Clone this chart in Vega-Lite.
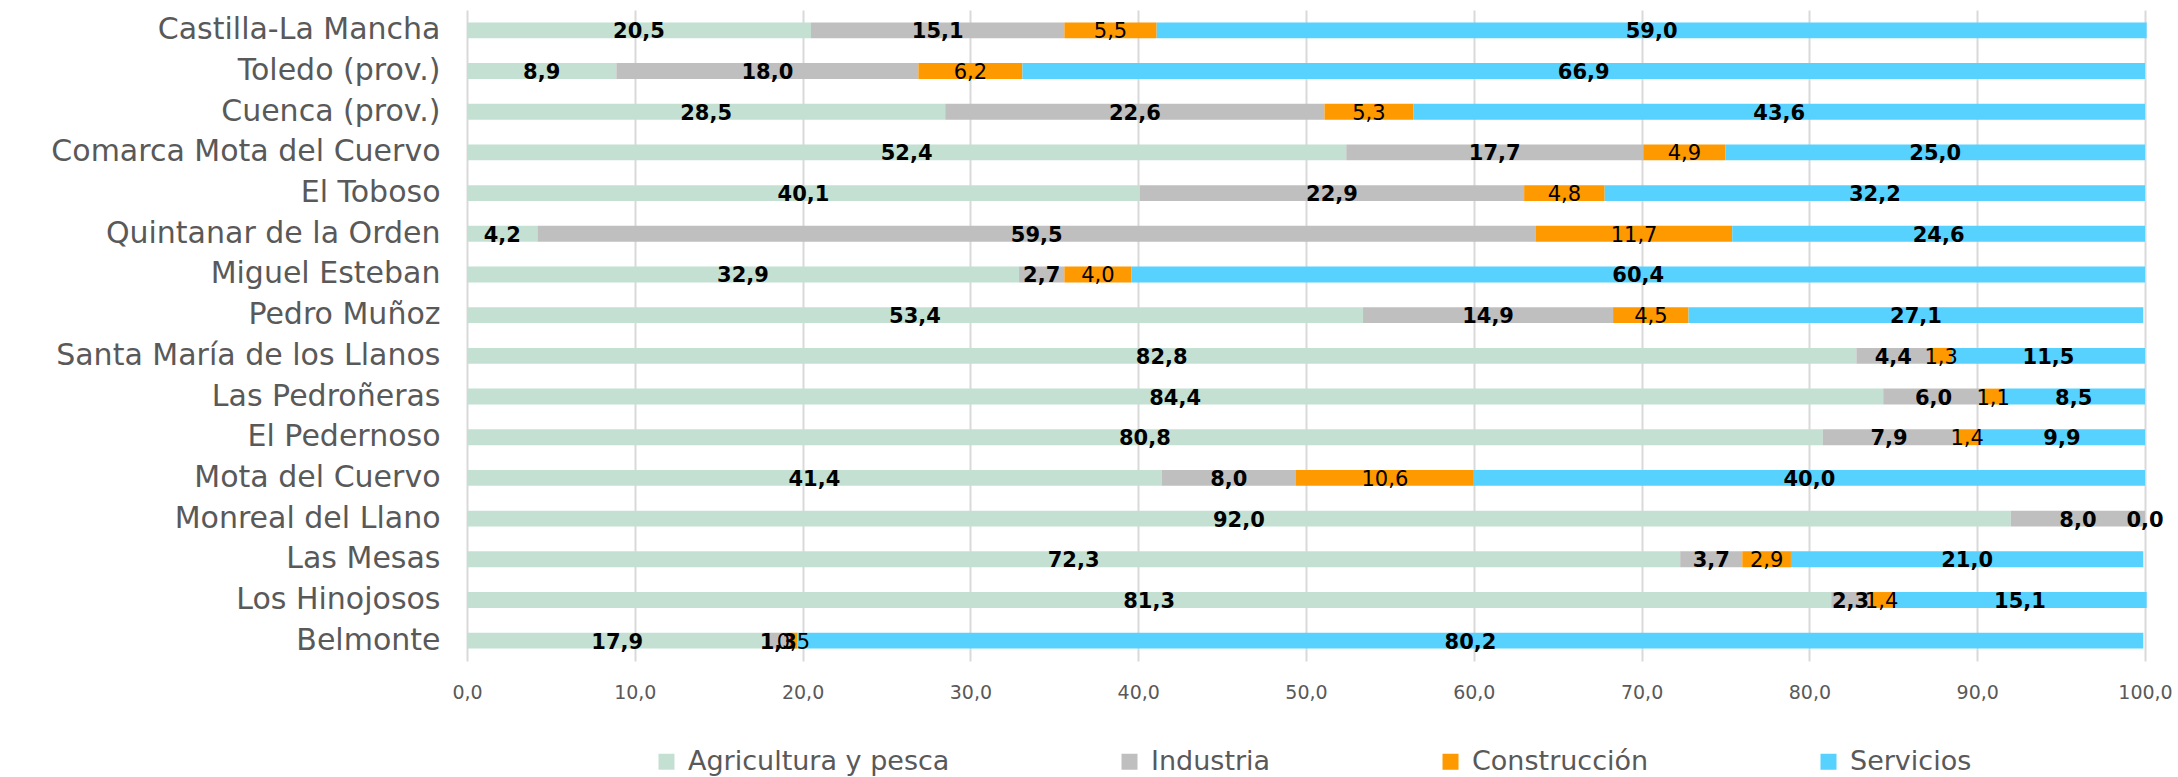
{
  "$schema": "https://vega.github.io/schema/vega-lite/v6.json",
  "width": 1678,
  "height": 651,
  "autosize": {"type": "none"},
  "padding": {"left": 467, "top": 10, "right": 33, "bottom": 116},
  "background": "white",
  "config": {
    "view": {"stroke": null},
    "locale": {"number": {"decimal": ",", "thousands": ".", "grouping": [3], "currency": ["", " €"]}},
    "font": "DejaVu Sans"
  },
  "data": {
    "values": [
      {"zona": "Castilla-La Mancha", "sector": "Agricultura y pesca", "valor": 20.5},
      {"zona": "Castilla-La Mancha", "sector": "Industria", "valor": 15.1},
      {"zona": "Castilla-La Mancha", "sector": "Construcción", "valor": 5.5},
      {"zona": "Castilla-La Mancha", "sector": "Servicios", "valor": 59.0},
      {"zona": "Toledo (prov.)", "sector": "Agricultura y pesca", "valor": 8.9},
      {"zona": "Toledo (prov.)", "sector": "Industria", "valor": 18.0},
      {"zona": "Toledo (prov.)", "sector": "Construcción", "valor": 6.2},
      {"zona": "Toledo (prov.)", "sector": "Servicios", "valor": 66.9},
      {"zona": "Cuenca (prov.)", "sector": "Agricultura y pesca", "valor": 28.5},
      {"zona": "Cuenca (prov.)", "sector": "Industria", "valor": 22.6},
      {"zona": "Cuenca (prov.)", "sector": "Construcción", "valor": 5.3},
      {"zona": "Cuenca (prov.)", "sector": "Servicios", "valor": 43.6},
      {"zona": "Comarca Mota del Cuervo", "sector": "Agricultura y pesca", "valor": 52.4},
      {"zona": "Comarca Mota del Cuervo", "sector": "Industria", "valor": 17.7},
      {"zona": "Comarca Mota del Cuervo", "sector": "Construcción", "valor": 4.9},
      {"zona": "Comarca Mota del Cuervo", "sector": "Servicios", "valor": 25.0},
      {"zona": "El Toboso", "sector": "Agricultura y pesca", "valor": 40.1},
      {"zona": "El Toboso", "sector": "Industria", "valor": 22.9},
      {"zona": "El Toboso", "sector": "Construcción", "valor": 4.8},
      {"zona": "El Toboso", "sector": "Servicios", "valor": 32.2},
      {"zona": "Quintanar de la Orden", "sector": "Agricultura y pesca", "valor": 4.2},
      {"zona": "Quintanar de la Orden", "sector": "Industria", "valor": 59.5},
      {"zona": "Quintanar de la Orden", "sector": "Construcción", "valor": 11.7},
      {"zona": "Quintanar de la Orden", "sector": "Servicios", "valor": 24.6},
      {"zona": "Miguel Esteban", "sector": "Agricultura y pesca", "valor": 32.9},
      {"zona": "Miguel Esteban", "sector": "Industria", "valor": 2.7},
      {"zona": "Miguel Esteban", "sector": "Construcción", "valor": 4.0},
      {"zona": "Miguel Esteban", "sector": "Servicios", "valor": 60.4},
      {"zona": "Pedro Muñoz", "sector": "Agricultura y pesca", "valor": 53.4},
      {"zona": "Pedro Muñoz", "sector": "Industria", "valor": 14.9},
      {"zona": "Pedro Muñoz", "sector": "Construcción", "valor": 4.5},
      {"zona": "Pedro Muñoz", "sector": "Servicios", "valor": 27.1},
      {"zona": "Santa María de los Llanos", "sector": "Agricultura y pesca", "valor": 82.8},
      {"zona": "Santa María de los Llanos", "sector": "Industria", "valor": 4.4},
      {"zona": "Santa María de los Llanos", "sector": "Construcción", "valor": 1.3},
      {"zona": "Santa María de los Llanos", "sector": "Servicios", "valor": 11.5},
      {"zona": "Las Pedroñeras", "sector": "Agricultura y pesca", "valor": 84.4},
      {"zona": "Las Pedroñeras", "sector": "Industria", "valor": 6.0},
      {"zona": "Las Pedroñeras", "sector": "Construcción", "valor": 1.1},
      {"zona": "Las Pedroñeras", "sector": "Servicios", "valor": 8.5},
      {"zona": "El Pedernoso", "sector": "Agricultura y pesca", "valor": 80.8},
      {"zona": "El Pedernoso", "sector": "Industria", "valor": 7.9},
      {"zona": "El Pedernoso", "sector": "Construcción", "valor": 1.4},
      {"zona": "El Pedernoso", "sector": "Servicios", "valor": 9.9},
      {"zona": "Mota del Cuervo", "sector": "Agricultura y pesca", "valor": 41.4},
      {"zona": "Mota del Cuervo", "sector": "Industria", "valor": 8.0},
      {"zona": "Mota del Cuervo", "sector": "Construcción", "valor": 10.6},
      {"zona": "Mota del Cuervo", "sector": "Servicios", "valor": 40.0},
      {"zona": "Monreal del Llano", "sector": "Agricultura y pesca", "valor": 92.0},
      {"zona": "Monreal del Llano", "sector": "Industria", "valor": 8.0},
      {"zona": "Monreal del Llano", "sector": "Servicios", "valor": 0.0},
      {"zona": "Las Mesas", "sector": "Agricultura y pesca", "valor": 72.3},
      {"zona": "Las Mesas", "sector": "Industria", "valor": 3.7},
      {"zona": "Las Mesas", "sector": "Construcción", "valor": 2.9},
      {"zona": "Las Mesas", "sector": "Servicios", "valor": 21.0},
      {"zona": "Los Hinojosos", "sector": "Agricultura y pesca", "valor": 81.3},
      {"zona": "Los Hinojosos", "sector": "Industria", "valor": 2.3},
      {"zona": "Los Hinojosos", "sector": "Construcción", "valor": 1.4},
      {"zona": "Los Hinojosos", "sector": "Servicios", "valor": 15.1},
      {"zona": "Belmonte", "sector": "Agricultura y pesca", "valor": 17.9},
      {"zona": "Belmonte", "sector": "Industria", "valor": 1.3},
      {"zona": "Belmonte", "sector": "Construcción", "valor": 0.5},
      {"zona": "Belmonte", "sector": "Servicios", "valor": 80.2}
    ]
  },
  "transform": [
    {"calculate": "indexof(['Agricultura y pesca','Industria','Construcción','Servicios'], datum.sector)", "as": "ord"},
    {"stack": "valor", "groupby": ["zona"], "sort": [{"field": "ord", "order": "ascending"}], "as": ["x0", "x1"]},
    {"calculate": "(datum.x0 + datum.x1) / 2", "as": "xm"}
  ],
  "encoding": {
    "y": {
      "field": "zona",
      "type": "nominal",
      "sort": null,
      "scale": {"paddingInner": 0.61, "paddingOuter": 0.305},
      "axis": {
        "title": null,
        "ticks": false,
        "domain": false,
        "labelFont": "DejaVu Sans",
        "labelFontSize": 30,
        "labelColor": "#595959",
        "labelPadding": 27,
        "labelLimit": 500
      }
    }
  },
  "layer": [
    {
      "mark": {"type": "bar"},
      "encoding": {
        "x": {
          "field": "x0",
          "type": "quantitative",
          "scale": {"domain": [0, 100], "nice": false},
          "axis": {
            "title": null,
            "values": [0, 10, 20, 30, 40, 50, 60, 70, 80, 90, 100],
            "format": ".1f",
            "grid": true,
            "gridColor": "#D9D9D9",
            "gridWidth": 2,
            "domain": false,
            "ticks": false,
            "labelFlush": false,
            "labelFont": "DejaVu Sans",
            "labelFontSize": 19,
            "labelColor": "#595959",
            "labelPadding": 22
          }
        },
        "x2": {"field": "x1"},
        "color": {
          "field": "sector",
          "type": "nominal",
          "scale": {
            "domain": ["Agricultura y pesca", "Industria", "Construcción", "Servicios"],
            "range": ["#C4E0D3", "#BFBFBF", "#FF9900", "#57D2FF"]
          },
          "legend": {
            "title": null,
            "orient": "none",
            "direction": "horizontal",
            "legendX": 186,
            "legendY": 738,
            "symbolType": "square",
            "symbolSize": 256,
            "symbolStrokeWidth": 0,
            "labelFont": "DejaVu Sans",
            "labelFontSize": 27,
            "labelColor": "#595959",
            "labelOffset": 8,
            "labelLimit": 500,
            "columnPadding": 166,
            "padding": 0
          }
        }
      }
    },
    {
      "transform": [{"filter": "datum.sector !== 'Construcción'"}],
      "mark": {"type": "text", "font": "DejaVu Sans", "fontWeight": "bold", "fontSize": 21, "color": "black", "baseline": "middle", "dy": 2},
      "encoding": {
        "x": {"field": "xm", "type": "quantitative"},
        "text": {"field": "valor", "type": "quantitative", "format": ".1f"}
      }
    },
    {
      "transform": [{"filter": "datum.sector === 'Construcción'"}],
      "mark": {"type": "text", "font": "DejaVu Sans", "fontWeight": "normal", "fontSize": 21, "color": "black", "baseline": "middle", "dy": 2},
      "encoding": {
        "x": {"field": "xm", "type": "quantitative"},
        "text": {"field": "valor", "type": "quantitative", "format": ".1f"}
      }
    }
  ]
}
